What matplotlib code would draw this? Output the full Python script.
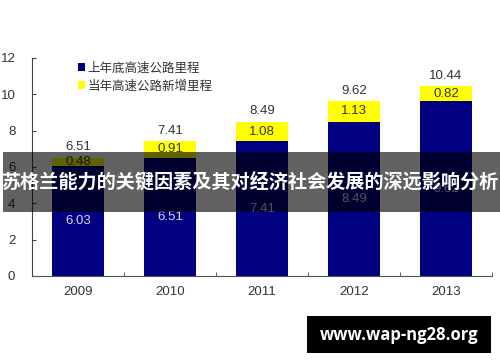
import matplotlib
matplotlib.use("Agg")
import matplotlib.pyplot as plt
from matplotlib.patches import Rectangle

plt.rcParams['font.family'] = ['Liberation Sans', 'Noto Sans CJK SC', 'DejaVu Sans']

years = ["2009", "2010", "2011", "2012", "2013"]
base = [6.03, 6.51, 7.41, 8.49, 9.62]
added = [0.48, 0.91, 1.08, 1.13, 0.82]
totals = [6.51, 7.41, 8.49, 9.62, 10.44]
legend_labels = ["上年底高速公路里程", "当年高速公路新增里程"]
yticks = [0, 2, 4, 6, 8, 10, 12]
banner_text = "苏格兰能力的关键因素及其对经济社会发展的深远影响分析"
watermark = "www.wap-ng28.org"

fig = plt.figure(figsize=(5, 3.62), dpi=100)
ax = fig.add_axes([0.064, 0.2376, 0.92, 0.6024])
x = list(range(len(years)))
blue = "#000080"
yellow = "#FFFF00"
ax.bar(x, base, width=0.56, color=blue, label=legend_labels[0])
ax.bar(x, added, bottom=base, width=0.56, color=yellow, label=legend_labels[1])

for i in x:
    ax.text(i, base[i] / 2, f"{base[i]:.2f}", ha="center", va="center", color="#d8d8f0", fontsize=9.5)
    ax.text(i, base[i] + added[i] / 2, f"{added[i]:.2f}", ha="center", va="center", color="#333333", fontsize=9.5)
    ax.text(i, totals[i] + 0.25, f"{totals[i]:.2f}", ha="center", va="bottom", color="#333333", fontsize=9.5)

ax.set_xlim(-0.5, 4.5)
ax.set_ylim(0, 12)
ax.set_yticks(yticks)
ax.set_yticklabels([str(t) for t in yticks], fontsize=9.5, color="#333333")
ax.set_xticks(x)
ax.set_xticklabels(years, fontsize=9.5, color="#333333")
ax.tick_params(axis="x", length=0, pad=7)
ax.tick_params(axis="y", direction="in", length=3, pad=12, color="#444444")
ax.set_xticks([0.5, 1.5, 2.5, 3.5, 4.5], minor=True)
ax.tick_params(axis="x", which="minor", direction="in", length=3, color="#444444")
for s in ["top", "right"]:
    ax.spines[s].set_visible(False)
ax.spines["left"].set_color("#444444")
ax.spines["bottom"].set_color("#555555")

leg = ax.legend(loc="upper left", bbox_to_anchor=(0.075, 1.03), frameon=False, fontsize=9,
                handlelength=0.6, handleheight=0.6, handletextpad=0.2, labelspacing=0.45,
                labelcolor="#333333")

# banner overlay
fig.patches.append(Rectangle((0.006, 1 - 212 / 362), 0.994, 60 / 362, transform=fig.transFigure,
                             facecolor="black", alpha=0.62, edgecolor="none", zorder=10))
fig.text(0.5, 1 - 182 / 362, banner_text, ha="center", va="center", color="white", fontsize=13.8,
         fontweight="bold", family=["Noto Sans CJK SC", "DejaVu Sans"], zorder=11)

# watermark box
fig.patches.append(Rectangle((307 / 500, 1 - 353 / 362), 184 / 500, 37 / 362, transform=fig.transFigure,
                             facecolor="black", edgecolor="none", zorder=10))
fig.text(399 / 500, 1 - 335 / 362, watermark, ha="center", va="center", color="white", fontsize=12,
         fontweight="bold", family=["Open Sans", "DejaVu Sans"], zorder=11)

fig.savefig("out.png", dpi=100)
